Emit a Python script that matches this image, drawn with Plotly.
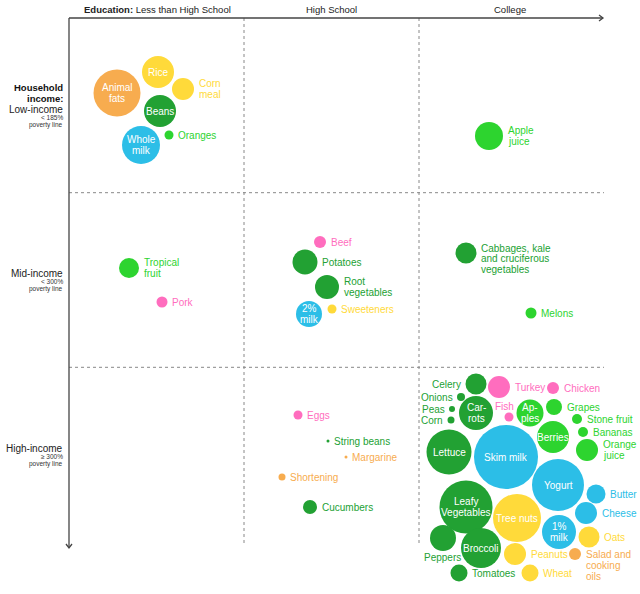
import plotly.graph_objects as go

# ---- data (chart units: 1 unit = 1 px of the 640x594 canvas) ----
names = ["Animal<br>fats", "Rice", "Corn<br>meal", "Beans", "Whole<br>milk", "Oranges",
         "Apple<br>juice", "Tropical<br>fruit", "Pork", "Beef", "Potatoes", "Root<br>vegetables",
         "2%<br>milk", "Sweeteners", "Cabbages, kale<br>and cruciferous<br>vegetables", "Melons",
         "Eggs", "String beans", "Margarine", "Shortening", "Cucumbers",
         "Celery", "Onions", "Peas", "Corn", "Car-<br>rots", "Turkey", "Chicken", "Fish",
         "Ap-<br>ples", "Grapes", "Stone fruit", "Bananas", "Berries", "Orange<br>juice",
         "Lettuce", "Skim milk", "Yogurt", "Butter", "Cheese", "Leafy<br>Vegetables",
         "Tree nuts", "1%<br>milk", "Oats", "Salad and<br>cooking<br>oils", "Peppers",
         "Broccoli", "Tomatoes", "Peanuts", "Wheat"]
x_pos = [117, 158, 183, 160, 141, 169,
         489, 129, 162, 320, 305, 327,
         309, 332, 466, 531,
         298, 328, 346, 282, 310,
         476, 461, 452, 451, 476, 499, 553, 509,
         530, 554, 577, 583, 553, 587,
         449, 506, 558, 596, 586, 466,
         517, 559, 589, 575, 443,
         481, 459, 515, 530]
y_pos = [93, 72, 89, 111, 145, 135,
         136, 268, 302, 242, 262, 287,
         314, 309, 253, 313,
         415, 441, 457, 477, 507,
         384, 397, 409, 420, 413, 387, 388, 417,
         413, 407, 419, 432, 437, 450,
         452, 457, 485, 494, 513, 507,
         518, 532, 537, 554, 538,
         548, 573, 554, 573]
diam = [47, 32, 22, 32, 38, 9,
        28, 20, 11, 12, 25, 24,
        26, 9, 21, 11,
        9, 3, 3, 7, 14,
        21, 8, 6, 7, 34, 22, 12, 9,
        27, 16, 10, 10, 32, 22,
        45, 64, 52, 19, 22, 53,
        48, 34, 21, 12, 26,
        40, 17, 22, 17]
group = ["fat", "grain", "grain", "veg", "dairy", "fruit",
         "fruit", "fruit", "meat", "meat", "veg", "veg",
         "dairy", "grain", "veg", "fruit",
         "meat", "veg", "fat", "fat", "veg",
         "veg", "veg", "veg", "veg", "veg", "meat", "meat", "meat",
         "fruit", "fruit", "fruit", "fruit", "fruit", "fruit",
         "veg", "dairy", "dairy", "dairy", "dairy", "veg",
         "grain", "dairy", "grain", "fat", "veg",
         "veg", "veg", "grain", "grain"]
label_side = ["in", "in", "right", "in", "in", "right",
              "right", "right", "right", "right", "right", "right",
              "in", "right", "right", "right",
              "right", "right", "right", "right", "right",
              "left", "left", "left", "left", "in", "right", "right", "above",
              "in", "right", "right", "right", "in", "right",
              "in", "in", "in", "right", "right", "in",
              "in", "in", "right", "right", "below",
              "in", "right", "right", "right"]
label_dy = {"Cabbages, kale<br>and cruciferous<br>vegetables": 5.7,
            "Salad and<br>cooking<br>oils": 11.5}

col_labels = ["<b>Education:</b> Less than High School", "High School", "College"]
col_centers = [157, 331, 510]
row_titles = ["Low-income", "Mid-income", "High-income"]
row_notes = ["< 185%", "< 300%", "≥ 300%"]
row_title_y = [109.3, 273, 448]

colors = {"veg": "#22A133", "fruit": "#2DD42F", "dairy": "#2CBEE7",
          "grain": "#FFDA3A", "fat": "#F7AC4F", "meat": "#FF6DBE"}

FONT = "Liberation Sans, Arial, Helvetica, sans-serif"
LH = 10.7

fig = go.Figure()
for g, c in colors.items():
    idx = [i for i in range(len(names)) if group[i] == g]
    fig.add_trace(go.Scatter(
        x=[x_pos[i] for i in idx], y=[y_pos[i] for i in idx], mode="markers",
        marker=dict(size=[diam[i] for i in idx], sizemode="diameter", color=c,
                    line=dict(width=0), opacity=1),
        hovertext=[names[i].replace("<br>", " ") for i in idx], hoverinfo="text",
        showlegend=False, cliponaxis=False))

annots = []


def add_lines(lines, x, y_first, xanchor, color, size=10, lh=LH):
    for k, ln in enumerate(lines):
        annots.append(dict(x=x, y=y_first + k * lh, text=ln, showarrow=False,
                           xanchor=xanchor, yanchor="middle", xref="x", yref="y",
                           font=dict(family=FONT, size=size, color=color)))


for i, nm in enumerate(names):
    lines = nm.split("<br>")
    r = diam[i] / 2
    c = colors[group[i]]
    side = label_side[i]
    n = len(lines)
    dy = label_dy.get(nm, 0)
    if side == "in":
        add_lines(lines, x_pos[i], y_pos[i] - (n - 1) * 11 / 2, "center", "white", lh=11)
    elif side == "right":
        add_lines(lines, x_pos[i] + r + 2.5, y_pos[i] - (n - 1) * LH / 2 + dy, "left", c)
    elif side == "left":
        add_lines(lines, x_pos[i] - r - 2.5, y_pos[i], "right", c)
    elif side == "above":
        add_lines(lines, x_pos[i] - 5, y_pos[i] - r - 6, "center", c)
    elif side == "below":
        add_lines(lines, x_pos[i] - 1, y_pos[i] + r + 6, "center", c)

# column headers
for t, cx in zip(col_labels, col_centers):
    annots.append(dict(x=cx, y=9, text=t, showarrow=False, xanchor="center", yanchor="middle",
                       font=dict(family=FONT, size=9.5, color="#222")))

# row headers
annots.append(dict(x=64.5, y=87.3, text="<b>Household</b>", showarrow=False, xanchor="right",
                   yanchor="middle", font=dict(family=FONT, size=9.5, color="#111")))
annots.append(dict(x=64.5, y=98.3, text="<b>income:</b>", showarrow=False, xanchor="right",
                   yanchor="middle", font=dict(family=FONT, size=9.5, color="#111")))
for t, note, yy in zip(row_titles, row_notes, row_title_y):
    annots.append(dict(x=64.5, y=yy, text=t, showarrow=False, xanchor="right", yanchor="middle",
                       font=dict(family=FONT, size=10, color="#222")))
    annots.append(dict(x=64.5, y=yy + 8.5, text=note, showarrow=False, xanchor="right",
                       yanchor="middle", font=dict(family=FONT, size=6.5, color="#333")))
    annots.append(dict(x=64.5, y=yy + 16, text="poverty line", showarrow=False, xanchor="right",
                       yanchor="middle", font=dict(family=FONT, size=6.5, color="#333")))

shapes = [
    dict(type="line", x0=69, y0=18, x1=69, y1=548, line=dict(color="#444", width=1.3)),
    dict(type="path", path="M 66 544 L 69 548 L 72 544", line=dict(color="#444", width=1.3)),
    dict(type="line", x0=69, y0=18, x1=603, y1=18, line=dict(color="#444", width=1.3)),
    dict(type="path", path="M 599 15 L 603 18 L 599 21", line=dict(color="#444", width=1.3)),
]
for xv in [244, 419]:
    shapes.append(dict(type="line", x0=xv, y0=18, x1=xv, y1=544,
                       line=dict(color="#888", width=1, dash="dot"), layer="below"))
for yv in [192.7, 367.3]:
    shapes.append(dict(type="line", x0=69, y0=yv, x1=604, y1=yv,
                       line=dict(color="#888", width=1, dash="dot"), layer="below"))

W, H = 640, 594
fig.update_layout(
    width=W, height=H, margin=dict(l=0, r=0, t=0, b=0),
    paper_bgcolor="white", plot_bgcolor="white",
    xaxis=dict(range=[0, W], visible=False, fixedrange=True),
    yaxis=dict(range=[H, 0], visible=False, fixedrange=True),
    annotations=annots, shapes=shapes, font=dict(family=FONT),
)
fig.write_html("out.html", config={"displayModeBar": False},
               post_script="document.body.style.margin='0';document.body.style.overflow='hidden';")
